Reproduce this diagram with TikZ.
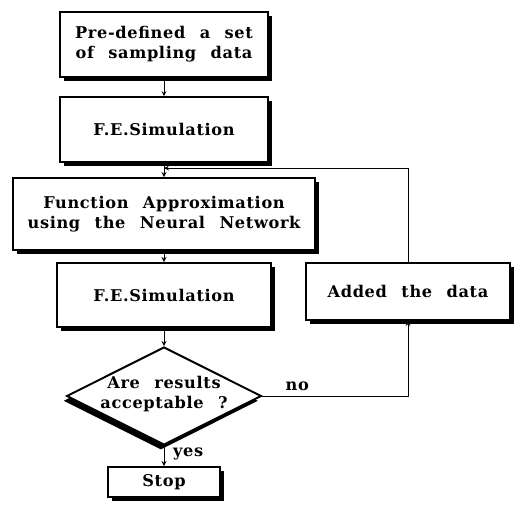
\documentclass[tikz,border=0pt]{standalone}
\usepackage{fontspec}
\setmainfont{DejaVu Serif}[LetterSpace=4,WordSpace=2.3]
\usetikzlibrary{shapes.geometric,shadows}
\tikzset{
	stepbox/.style={draw, line width=1.4pt, fill=white, align=center, font=\fontsize{11.5}{14.5}\selectfont\bfseries,
		drop shadow={shadow xshift=0.1cm, shadow yshift=-0.1cm, fill=black, opacity=1}},
	askbox/.style={draw, diamond, line width=1.4pt, fill=white, inner sep=0pt,
		drop shadow={shadow xshift=-0.08cm, shadow yshift=-0.12cm, fill=black, opacity=1}},
	asktext/.style={align=center, font=\fontsize{11.5}{14.5}\selectfont\bfseries},
	flow/.style={-stealth, line width=0.6pt},
	tag/.style={font=\fontsize{11.5}{13}\selectfont\bfseries}
}

\begin{document}
\begin{tikzpicture}
	\useasboundingbox (0,0) rectangle (13,-12.675);
	\node[stepbox, minimum width=5.2cm, minimum height=1.62cm] (sample) at (4.1,-1.11) {Pre-defined a set\\of sampling data};
	\node[stepbox, minimum width=5.2cm, minimum height=1.62cm] (fesim) at (4.1,-3.24) {F.E.Simulation};
	\node[stepbox, minimum width=7.55cm, minimum height=1.8cm] (approx) at (4.1,-5.35) {Function Approximation\\using the Neural Network};
	\node[stepbox, minimum width=5.33cm, minimum height=1.6cm] (fecheck) at (4.1,-7.375) {F.E.Simulation};
	\node[stepbox, minimum width=5.12cm, minimum height=1.42cm] (added) at (10.2,-7.29) {Added the data};
	\node[askbox, minimum width=4.87cm, minimum height=2.45cm] (check) at (4.1,-9.9) {};
	\node[asktext] (asklabel) at ([yshift=0.05cm]check) {Are results\\acceptable ?};
	\node[stepbox, minimum width=2.8cm, minimum height=0.75cm] (stop) at (4.1,-12.05) {Stop};
	\coordinate (join) at (4.1,-4.2);
	\draw[flow] (sample) -- (fesim);
	\draw[flow] (fesim) -- (approx);
	\draw[flow] (approx) -- (fecheck);
	\draw[flow] (fecheck) -- (check);
	\draw[flow] (check) -- (stop) node[tag, pos=0.4, right, xshift=0.1cm] {yes};
	\draw[flow] (check.east) -| (added.south) node[tag, pos=0.12, above] {no};
	\draw[flow] (added.north) |- (join);
\end{tikzpicture}
\end{document}
